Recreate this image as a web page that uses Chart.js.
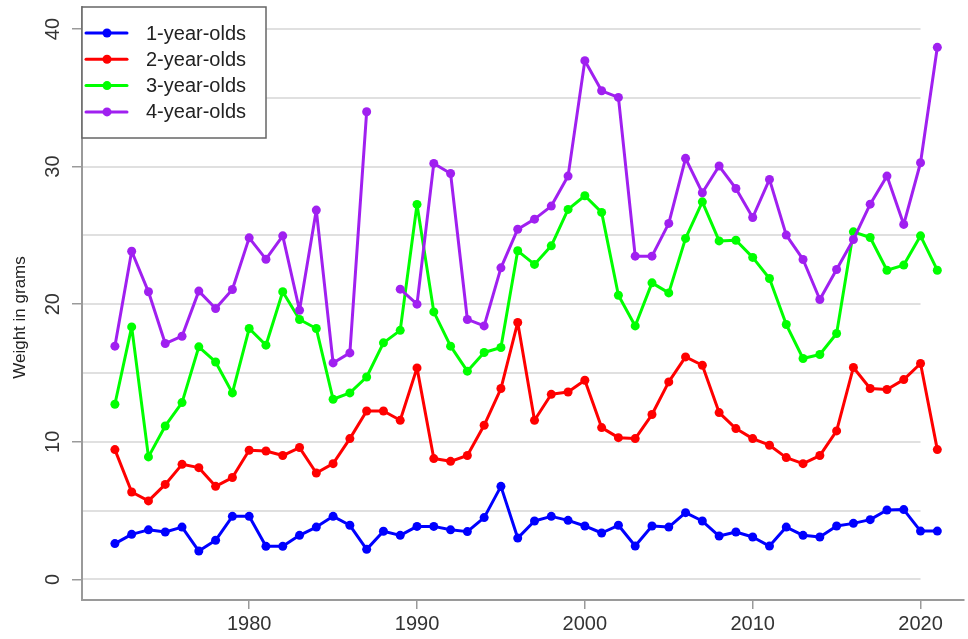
<!DOCTYPE html>
<html>
<head>
<meta charset="utf-8">
<title>Weight by age</title>
<script src="https://cdn.jsdelivr.net/npm/chart.js@4.4.1/dist/chart.umd.min.js"></script>
<style>
    html, body { margin: 0; padding: 0; background: #fff; overflow: hidden; }
    #wrap { width: 968px; height: 639px; position: relative; }
</style>
</head>
<body>
<div id="wrap"><canvas id="weightChart" width="968" height="639"></canvas></div>
<script>
const years = [
    1972, 1973, 1974, 1975, 1976, 1977, 1978, 1979, 1980, 1981,
    1982, 1983, 1984, 1985, 1986, 1987, 1988, 1989, 1990, 1991,
    1992, 1993, 1994, 1995, 1996, 1997, 1998, 1999, 2000, 2001,
    2002, 2003, 2004, 2005, 2006, 2007, 2008, 2009, 2010, 2011,
    2012, 2013, 2014, 2015, 2016, 2017, 2018, 2019, 2020, 2021
];

const oneYear = [
    2.6, 3.27, 3.6, 3.44, 3.8, 2.06, 2.84, 4.58, 4.58, 2.4,
    2.4, 3.2, 3.8, 4.58, 3.93, 2.18, 3.5, 3.2, 3.85, 3.85,
    3.6, 3.47, 4.49, 6.76, 3.0, 4.24, 4.58, 4.29, 3.88, 3.37,
    3.93, 2.42, 3.88, 3.8, 4.85, 4.24, 3.15, 3.44, 3.08, 2.42,
    3.8, 3.2, 3.08, 3.88, 4.07, 4.34, 5.04, 5.07, 3.51, 3.51
];
const twoYear = [
    9.43, 6.35, 5.7, 6.9, 8.36, 8.12, 6.76, 7.4, 9.38, 9.33,
    9.0, 9.58, 7.73, 8.41, 10.23, 12.24, 12.24, 11.56, 15.37, 8.78,
    8.58, 9.0, 11.2, 13.87, 18.67, 11.56, 13.45, 13.62, 14.47, 11.03,
    10.3, 10.23, 11.98, 14.35, 16.17, 15.56, 12.12, 10.96, 10.23, 9.75,
    8.85, 8.41, 9.0, 10.79, 15.4, 13.87, 13.8, 14.52, 15.69, 9.43
];
const threeYear = [
    12.73, 18.35, 8.9, 11.15, 12.85, 16.9, 15.8, 13.55, 18.23, 17.02,
    20.9, 18.89, 18.23, 13.09, 13.55, 14.71, 17.19, 18.1, 27.25, 19.44,
    16.95, 15.13, 16.49, 16.85, 23.88, 22.89, 24.24, 26.89, 27.88, 26.67,
    20.65, 18.42, 21.55, 20.82, 24.78, 27.44, 24.6, 24.65, 23.4, 21.87,
    18.52, 16.05, 16.34, 17.87, 25.26, 24.85, 22.47, 22.84, 24.97, 22.47
];
// 1988 has no value for the 4-year-olds
const fourYear = [
    16.95, 23.85, 20.9, 17.14, 17.67, 20.95, 19.69, 21.07, 24.82, 23.27,
    24.97, 19.56, 26.84, 15.73, 16.46, 33.99, null, 21.09, 20.0, 30.23,
    29.5, 18.89, 18.42, 22.64, 25.45, 26.18, 27.13, 29.31, 37.7, 35.51,
    35.03, 23.49, 23.49, 25.87, 30.6, 28.1, 30.04, 28.41, 26.3, 29.07,
    25.02, 23.25, 20.34, 22.52, 24.7, 27.27, 29.31, 25.8, 30.28, 38.67
];

const seriesLabels = ['1-year-olds', '2-year-olds', '3-year-olds', '4-year-olds'];
const xTickValues = [1980, 1990, 2000, 2010, 2020];
const yTickValues = [0, 10, 20, 30, 40];
const gridValues = [0, 5, 10, 15, 20, 25, 30, 35, 40];
const yTitle = 'Weight in grams';

const colors = ['#0000ff', '#ff0000', '#00ff00', '#a020f0'];
const fontFamily = "'Liberation Sans', Arial, sans-serif";
const gridEnd = 2020;

function toPoints(values) {
    return years.map((yr, i) => ({ x: yr, y: values[i] }));
}

// light horizontal rules every 5 g, stopping at the last tick year
const gridRules = {
    id: 'gridRules',
    beforeDatasetsDraw(chart) {
        const { ctx, chartArea, scales: { x, y } } = chart;
        const right = x.getPixelForValue(gridEnd);
        ctx.save();
        ctx.strokeStyle = '#e0e0e0';
        ctx.lineWidth = 2;
        gridValues.forEach(v => {
            const py = Math.round(y.getPixelForValue(v));
            ctx.beginPath();
            ctx.moveTo(chartArea.left + 1, py);
            ctx.lineTo(right, py);
            ctx.stroke();
        });
        ctx.restore();
    }
};

// y tick labels and axis title, both turned on their side
const sideLabels = {
    id: 'sideLabels',
    afterDraw(chart) {
        const { ctx, chartArea, scales: { y } } = chart;
        ctx.save();
        ctx.textAlign = 'center';
        ctx.textBaseline = 'middle';
        ctx.fillStyle = '#333';
        ctx.font = '20px ' + fontFamily;
        y.ticks.forEach(t => {
            const py = y.getPixelForValue(t.value);
            ctx.save();
            ctx.translate(y.right - 30, py);
            ctx.rotate(-Math.PI / 2);
            ctx.fillText(String(t.value), 0, 1);
            ctx.restore();
        });

        ctx.fillStyle = '#222';
        ctx.font = '17px ' + fontFamily;
        ctx.translate(20, (chartArea.top + chartArea.bottom) / 2 + 14);
        ctx.rotate(-Math.PI / 2);
        ctx.fillText(yTitle, 0, 0);
        ctx.restore();
    }
};

// boxed legend in the top left corner, each key a line with a dot
const boxLegend = {
    id: 'boxLegend',
    afterDraw(chart) {
        const { ctx, chartArea } = chart;
        const left = chartArea.left;
        const top = chartArea.top;
        const w = 184, h = 131;
        ctx.save();
        ctx.fillStyle = '#fff';
        ctx.fillRect(left, top, w, h);
        ctx.strokeStyle = '#666';
        ctx.lineWidth = 1.5;
        ctx.strokeRect(left, top, w, h);

        ctx.font = '20px ' + fontFamily;
        ctx.textBaseline = 'middle';
        ctx.lineCap = 'round';
        chart.data.datasets.forEach((ds, i) => {
            const cy = top + 26 + i * 26.3;
            ctx.strokeStyle = ds.borderColor;
            ctx.lineWidth = 3;
            ctx.beginPath();
            ctx.moveTo(left + 4, cy);
            ctx.lineTo(left + 45, cy);
            ctx.stroke();
            ctx.fillStyle = ds.borderColor;
            ctx.beginPath();
            ctx.arc(left + 25, cy, 4.5, 0, Math.PI * 2);
            ctx.fill();
            ctx.fillStyle = '#222';
            ctx.fillText(ds.label, left + 64, cy + 1);
        });
        ctx.restore();
    }
};

const allSeries = [oneYear, twoYear, threeYear, fourYear];

new Chart(document.getElementById('weightChart'), {
    type: 'line',
    data: {
        datasets: allSeries.map((values, i) => ({
            label: seriesLabels[i],
            data: toPoints(values),
            borderColor: colors[i],
            backgroundColor: colors[i],
            pointBackgroundColor: colors[i],
            pointBorderWidth: 0,
            pointRadius: 4.5,
            borderWidth: 3,
            borderJoinStyle: 'round',
            borderCapStyle: 'round',
            tension: 0,
            spanGaps: false,
            order: allSeries.length - i
        }))
    },
    options: {
        responsive: false,
        animation: false,
        layout: { padding: { top: 7, right: 1, left: 0, bottom: 0 } },
        plugins: {
            legend: { display: false },
            tooltip: { enabled: false }
        },
        scales: {
            x: {
                type: 'linear',
                min: 1970.04,
                max: 2022.56,
                afterFit: s => { s.height = 39; },
                afterBuildTicks: s => { s.ticks = xTickValues.map(v => ({ value: v })); },
                border: { display: true, color: '#9a9a9a', width: 2 },
                grid: { drawOnChartArea: false, drawTicks: true, tickLength: 9, color: '#9a9a9a', lineWidth: 1.5 },
                ticks: {
                    color: '#333',
                    padding: 3,
                    font: { family: fontFamily, size: 20 },
                    maxRotation: 0,
                    autoSkip: false,
                    callback: v => String(v)
                }
            },
            y: {
                min: -1.5,
                max: 41.6,
                afterFit: s => { s.width = 82; },
                afterBuildTicks: s => { s.ticks = yTickValues.map(v => ({ value: v })); },
                border: { display: true, color: '#9a9a9a', width: 2 },
                grid: { drawOnChartArea: false, drawTicks: true, tickLength: 10, color: '#9a9a9a', lineWidth: 1.5 },
                ticks: { display: false }
            }
        }
    },
    plugins: [gridRules, sideLabels, boxLegend]
});
</script>
</body>
</html>
